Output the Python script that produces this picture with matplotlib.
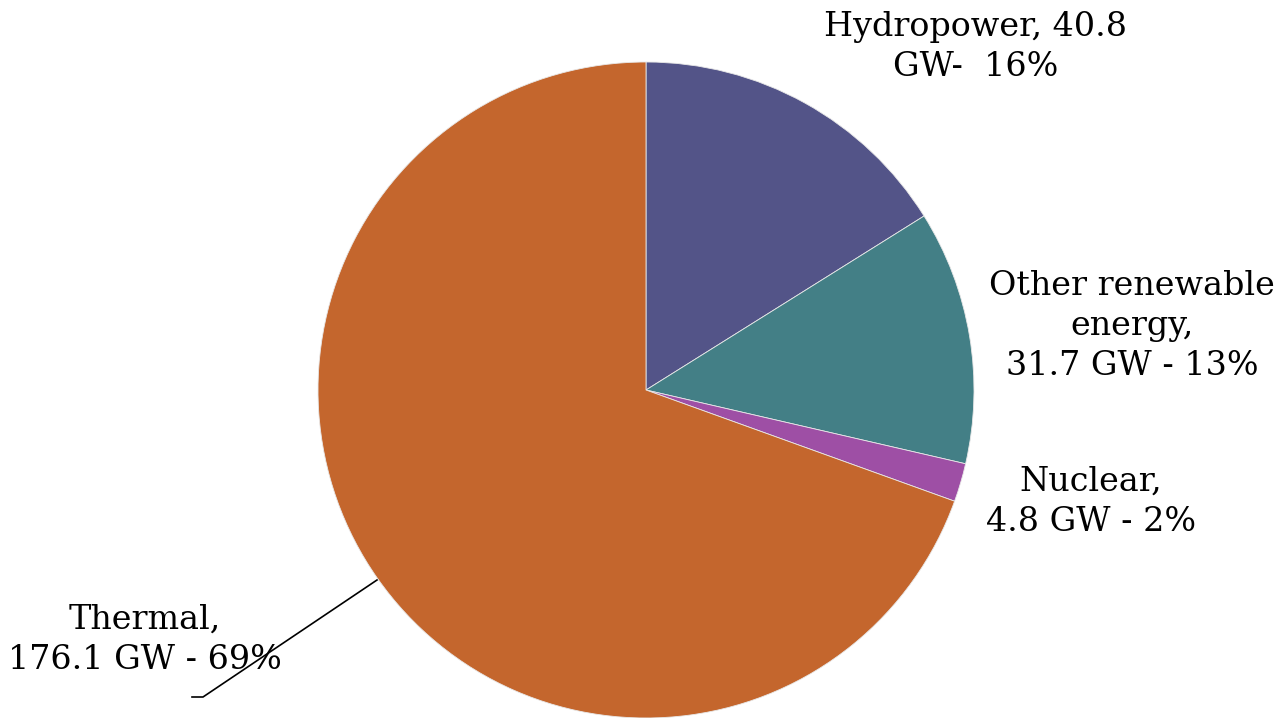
import matplotlib.pyplot as plt

labels = ["Hydropower, 40.8\nGW-  16%",
          "Other renewable\nenergy,\n31.7 GW - 13%",
          "Nuclear,\n4.8 GW - 2%",
          "Thermal,\n176.1 GW - 69%"]
values = [40.8, 31.7, 4.8, 176.1]
colors = ["#535488", "#437f86", "#9e4fa5", "#c4662d"]

W, H = 1274, 718

fig = plt.figure(figsize=(W / 100, H / 100), dpi=100)
ax = fig.add_axes([0, 0, 1, 1])

# pie placed in pixel units, y measured from the bottom
cx, cy, r = 646, H - 390, 328
ax.pie(values, colors=colors, startangle=90, counterclock=False,
       center=(cx, cy), radius=r, frame=True,
       wedgeprops=dict(edgecolor="#e8e8e8", linewidth=0.6))
ax.set_xlim(0, W)
ax.set_ylim(0, H)
ax.set_aspect("equal")
ax.axis("off")

font = dict(family="DejaVu Serif", fontsize=24, ha="center", va="center",
            multialignment="center", linespacing=1.32)
label_pos = [(976, H - 47), (1132, H - 326), (1091, H - 502), (145, H - 640)]
for txt, (x, y) in zip(labels, label_pos):
    ax.text(x, y, txt, **font)

# leader line for the thermal label
ax.plot([377, 203, 192], [H - 580, H - 697, H - 697], color="black", lw=1.2)

fig.savefig("out.png", dpi=100)
